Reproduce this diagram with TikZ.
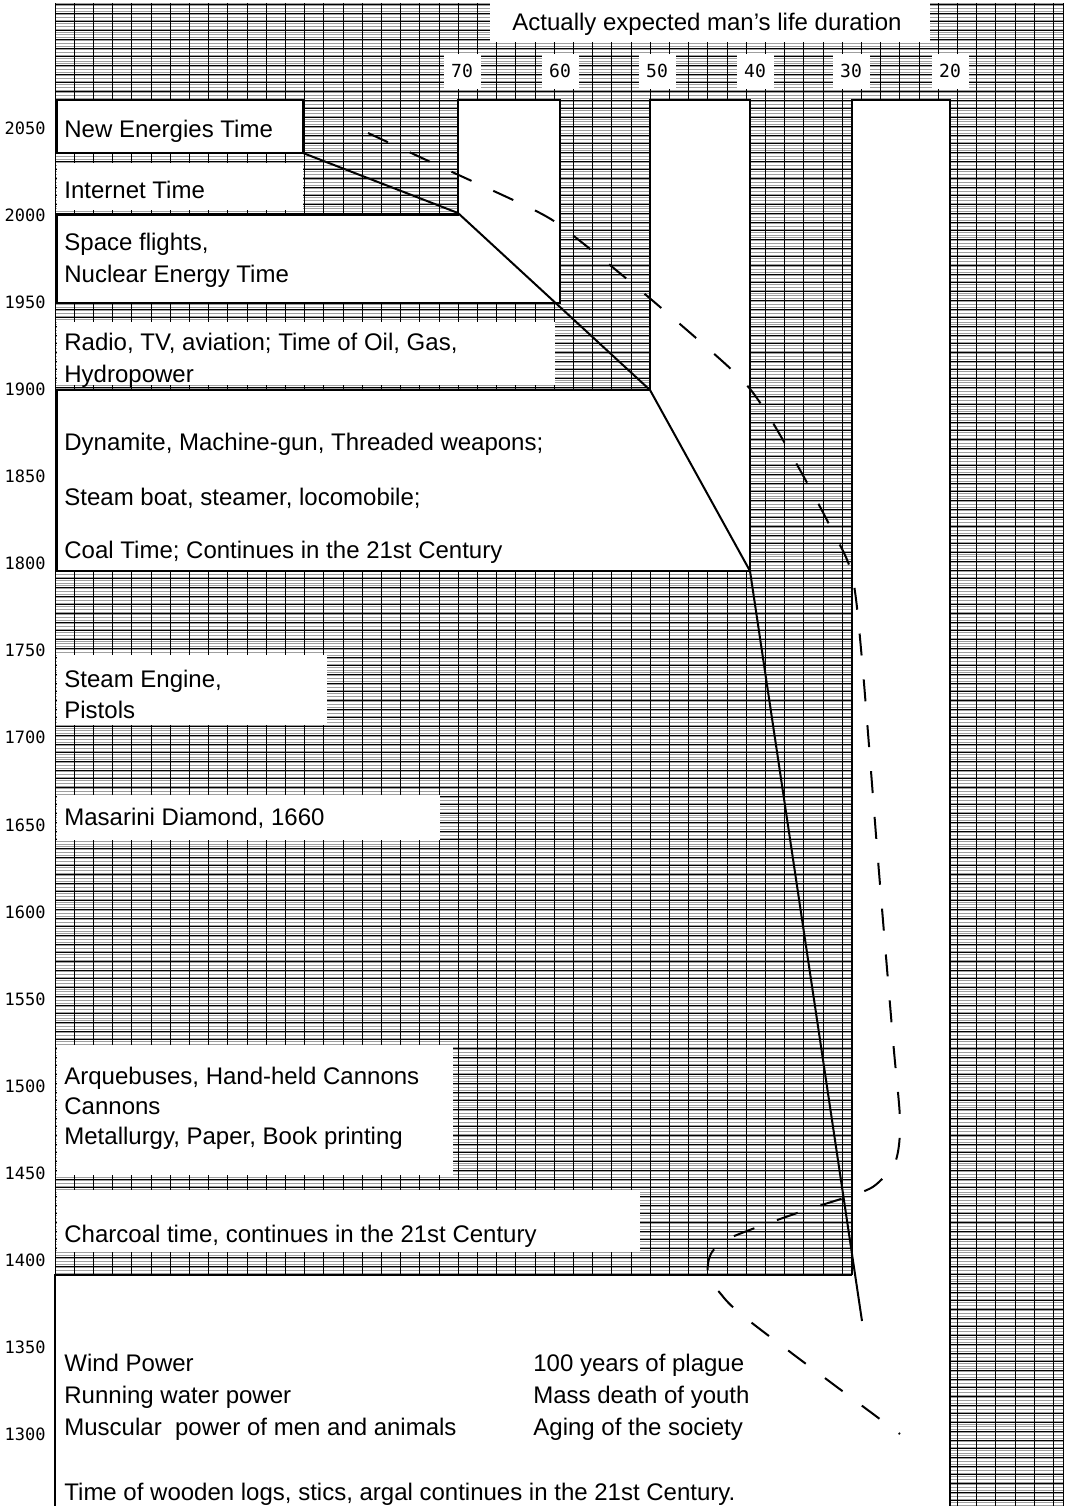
\documentclass[tikz,border=0pt]{standalone}
\usepackage{fontspec}
\setmainfont{Liberation Sans}
\newfontfamily\numfont{DejaVu Sans Mono}
\usetikzlibrary{positioning}
\tikzset{
  gridgray/.style  = {gray!75, line width=0.5pt},
  gridblack/.style = {black, line width=0.45pt},
  blank/.style     = {fill=white, draw=none},
  frame/.style     = {draw, line width=1.2pt, line join=miter},
  era/.style       = {anchor=base west, inner sep=0pt, font=\fontsize{12}{14}\selectfont},
  yearlbl/.style   = {anchor=east, inner sep=0pt, font=\numfont\fontsize{8.5}{9}\selectfont},
  agelbl/.style    = {fill=white, inner sep=0pt, minimum width=18.5pt,
                      minimum height=17.5pt, font=\numfont\fontsize{9}{10}\selectfont},
  lifeline/.style  = {line width=1pt, line join=round},
  lifedash/.style  = {line width=1pt, dash pattern=on 11pt off 12pt},
}

\begin{document}
\begin{tikzpicture}[x=0.5pt,y=-0.5pt]
\useasboundingbox (0,0) rectangle (1069,1506);
% hatched background
\foreach \k in {0,...,518} \draw[gridgray] (55,{3+\k*2.9}) -- (1063,{3+\k*2.9});
\foreach \k in {0,...,172} \draw[gridblack] (55,{4.5+\k*8.7}) -- (1063,{4.5+\k*8.7});
\foreach \k in {0,...,52} \draw[gridblack] ({55+\k*19.2},3) -- ({55+\k*19.2},1506);
\draw[gridblack] (1063,3) -- (1063,1506);
% white areas
\fill[blank] (490,3) rectangle (930,42);
\fill[blank] (57,100) rectangle (303,153);
\fill[blank] (57,163) rectangle (303,210);
\fill[blank] (458,100) -- (560,100) -- (560,303) -- (57,303) -- (57,215) -- (458,215) -- cycle;
\fill[blank] (57,322) rectangle (555,385);
\fill[blank] (650,100) -- (750,100) -- (750,571) -- (57,571) -- (57,390) -- (650,390) -- cycle;
\fill[blank] (57,655) rectangle (327,725);
\fill[blank] (57,795) rectangle (440,840);
\fill[blank] (57,1045) rectangle (453,1175);
\fill[blank] (57,1190) rectangle (640,1252);
\fill[blank] (852,100) -- (950,100) -- (950,1506) -- (55,1506) -- (55,1275) -- (852,1275) -- cycle;
% frames
\draw[frame] (57,100) rectangle (303,153);
\draw[frame] (458,100) -- (560,100) -- (560,303) -- (57,303) -- (57,215) -- (458,215) -- cycle;
\draw[frame] (650,100) -- (750,100) -- (750,571) -- (57,571) -- (57,390) -- (650,390) -- cycle;
\draw[frame] (852,1275) -- (852,100) -- (950,100) -- (950,1506);
\draw[frame] (852,1275) -- (55,1275) -- (55,1506);
% axis labels
\node[era] (title) at (512,30) {Actually expected man’s life duration};
\foreach \a/\xa in {70/462,60/560,50/657,40/755,30/851,20/950}
  \node[agelbl] (age\a) at (\xa,71) {\a};
\foreach \yr in {2050,2000,...,1300}
  \node[yearlbl] (yr\yr) at (46,{128+(2050-\yr)*1.742}) {\yr};
% era texts
\node[era] (newen) at (64,137) {New Energies Time};
\node[era] (inet) at (64,198) {Internet Time};
\node[era] (spacea) at (64,250) {Space flights,};
\node[era] (spaceb) at (64,282) {Nuclear Energy Time};
\node[era] (radioa) at (64,350) {Radio, TV, aviation; Time of Oil, Gas,};
\node[era] (radiob) at (64,382) {Hydropower};
\node[era] (dyna) at (64,450) {Dynamite, Machine-gun, Threaded weapons;};
\node[era] (steamb) at (64,505) {Steam boat, steamer, locomobile;};
\node[era] (coal) at (64,558) {Coal Time; Continues in the 21st Century};
\node[era] (steama) at (64,687) {Steam Engine,};
\node[era] (pistol) at (64,718) {Pistols};
\node[era] (masar) at (64,825) {Masarini Diamond, 1660};
\node[era] (arqa) at (64,1084) {Arquebuses, Hand-held Cannons};
\node[era] (arqb) at (64,1114) {Cannons};
\node[era] (arqc) at (64,1144) {Metallurgy, Paper, Book printing};
\node[era] (charc) at (64,1242) {Charcoal time, continues in the 21st Century};
\node[era] (wind) at (64,1371) {Wind Power};
\node[era] (water) at (64,1403) {Running water power};
\node[era] (muscle) at (64,1435) {Muscular\ \ power of men and animals};
\node[era] (wood) at (64,1500) {Time of wooden logs, stics, argal continues in the 21st Century.};
\node[era] (plague) at (533,1371) {100 years of plague};
\node[era] (youth) at (533,1403) {Mass death of youth};
\node[era] (aging) at (533,1435) {Aging of the society};
% life expectancy curves
\coordinate (l2050) at (303,153);
\coordinate (l2000) at (458,213);
\coordinate (l1900) at (650,390);
\coordinate (l1800) at (750,571);
\coordinate (lend) at (862,1321);
\draw[lifeline] (l2050) -- (l2000) -- (l1900) -- (l1800) -- (lend);
\draw[lifedash] plot[smooth, tension=0.5] coordinates {(368,133) (450,171) (540,213)
  (575,237) (646,295) (733,371) (763,407) (800,470) (832,530) (852,575) (862,660)
  (878,860) (893,1040) (900,1120) (896,1160) (880,1181) (862,1192) (800,1212)
  (732,1237) (712,1252) (708,1272) (720,1293) (752,1323) (900,1434)};
\end{tikzpicture}
\end{document}
